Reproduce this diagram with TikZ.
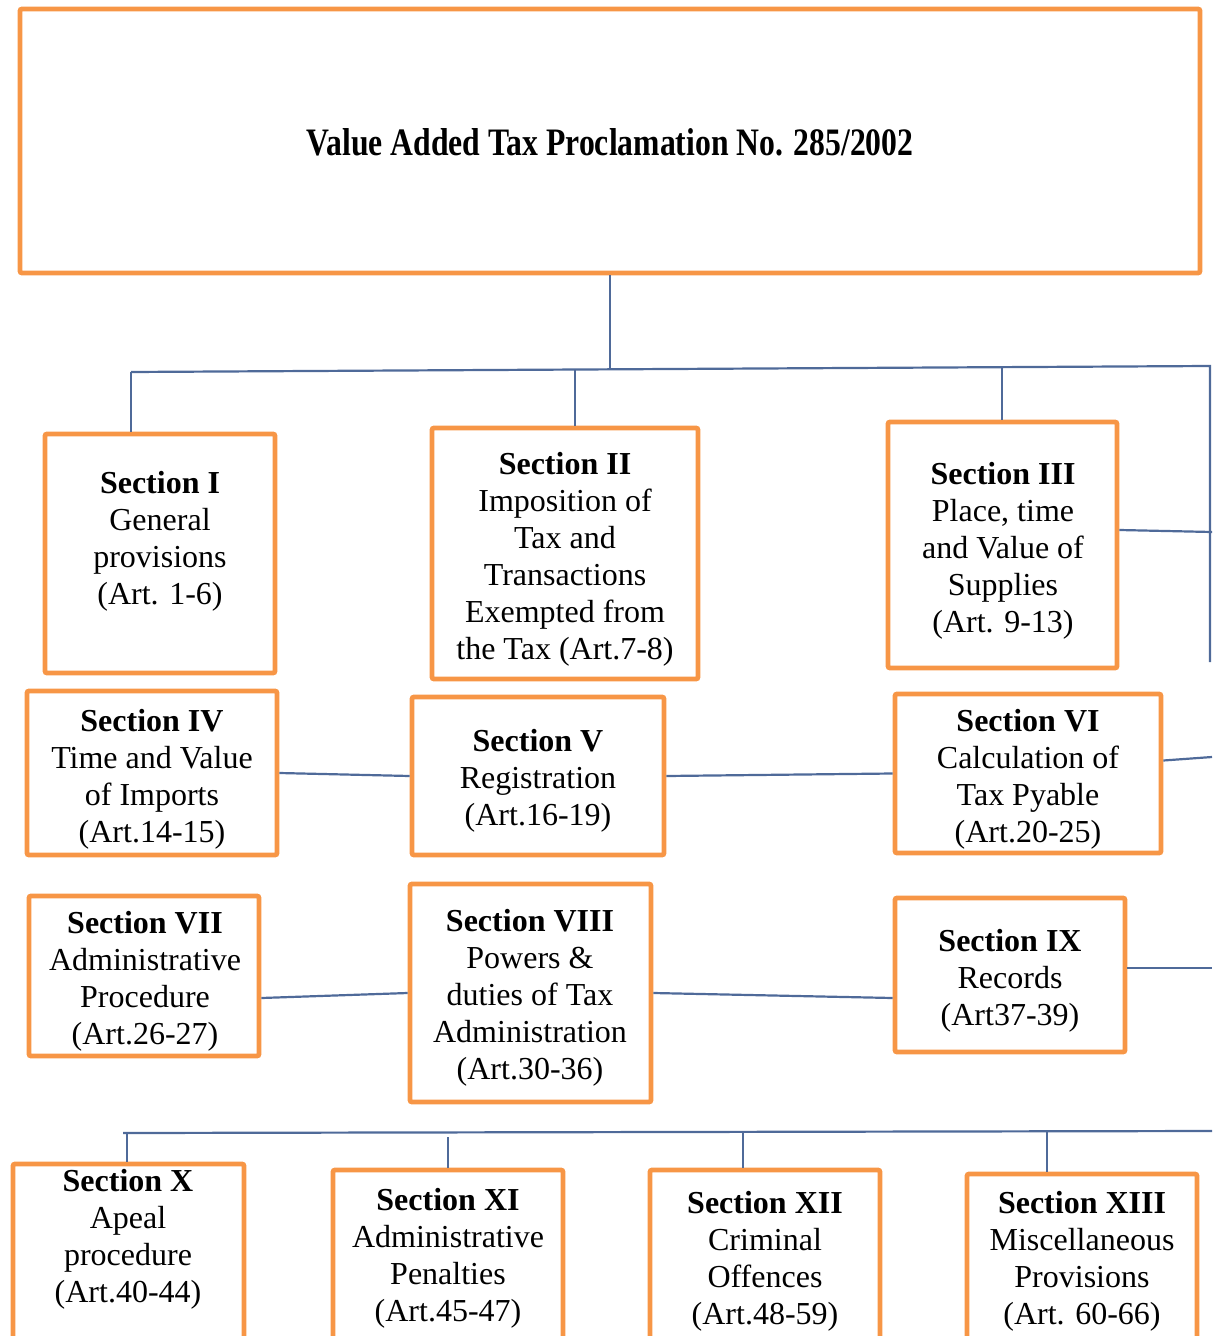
\documentclass[tikz,border=0pt]{standalone}
\usepackage{fontspec}
\setmainfont{Liberation Serif}
\usetikzlibrary{fit}
\definecolor{boxorange}{HTML}{F79646}
\definecolor{linkblue}{HTML}{4F6A99}
\begin{document}
\begin{tikzpicture}[x=0.5pt,y=-0.5pt,
  boxst/.style={draw=boxorange, line width=2.4pt, inner sep=0pt, rounded corners=1pt},
  txt/.style={align=center, font=\fontsize{16}{18.5}\selectfont, inner sep=0pt},
  link/.style={draw=linkblue, line width=1.1pt}]
\useasboundingbox (0,0) rectangle (1212,1336);
\clip (0,0) rectangle (1212,1336);

% boxes
\node[boxst, fit={(20,9) (1200,273)}] (top) {};
\node[boxst, fit={(45,434) (275,673)}] (s1) {};
\node[boxst, fit={(432,428) (698,679)}] (s2) {};
\node[boxst, fit={(888,422) (1117,668)}] (s3) {};
\node[boxst, fit={(27,691) (277,855)}] (s4) {};
\node[boxst, fit={(412,697) (664,855)}] (s5) {};
\node[boxst, fit={(895,694) (1161,853)}] (s6) {};
\node[boxst, fit={(29,896) (259,1056)}] (s7) {};
\node[boxst, fit={(410,884) (651,1102)}] (s8) {};
\node[boxst, fit={(895,898) (1125,1052)}] (s9) {};
\node[boxst, fit={(13,1164) (244,1370)}] (s10) {};
\node[boxst, fit={(333,1170) (563,1370)}] (s11) {};
\node[boxst, fit={(650,1170) (880,1370)}] (s12) {};
\node[boxst, fit={(967,1174) (1197,1370)}] (s13) {};

% texts
\node[inner sep=0pt, font=\fontsize{18}{21}\selectfont\bfseries] (ttl) at (610,142)
  {\scalebox{0.88}[1.08]{Value Added Tax Proclamation No. 285/2002}};
\node[txt] (t1) at (160,541) {\textbf{Section I}\\General\\provisions\\(Art. 1-6)};
\node[txt] (t2) at (565,559) {\textbf{Section II}\\Imposition of\\Tax and\\Transactions\\Exempted from\\the Tax (Art.7-8)};
\node[txt] (t3) at (1003,551) {\textbf{Section III}\\Place, time\\and Value of\\Supplies\\(Art. 9-13)};
\node[txt] (t4) at (152,779) {\textbf{Section IV}\\Time and Value\\of Imports\\(Art.14-15)};
\node[txt] (t5) at (538,781) {\textbf{Section V}\\Registration\\(Art.16-19)};
\node[txt] (t6) at (1028,779) {\textbf{Section VI}\\Calculation of\\Tax Pyable\\(Art.20-25)};
\node[txt] (t7) at (145,981) {\textbf{Section VII}\\Administrative\\Procedure\\(Art.26-27)};
\node[txt] (t8) at (530,998) {\textbf{Section VIII}\\Powers \&\\duties of Tax\\Administration\\(Art.30-36)};
\node[txt] (t9) at (1010,981) {\textbf{Section IX}\\Records\\(Art37-39)};
\node[txt] (t10) at (128,1239) {\textbf{Section X}\\Apeal\\procedure\\(Art.40-44)};
\node[txt] (t11) at (448,1258) {\textbf{Section XI}\\Administrative\\Penalties\\(Art.45-47)};
\node[txt] (t12) at (765,1261) {\textbf{Section XII}\\Criminal\\Offences\\(Art.48-59)};
\node[txt] (t13) at (1082,1261) {\textbf{Section XIII}\\Miscellaneous\\Provisions\\(Art. 60-66)};

% bus coordinates
\coordinate (b0) at (610,368);
\coordinate (bL) at (131,372);
\coordinate (bR) at (1210,366);
\coordinate (b2) at (575,370);
\coordinate (b3) at (1002,368);
\coordinate (vR) at (1210,662);
\coordinate (r3) at (1212,532);
\coordinate (r6) at (1212,757);
\coordinate (r9) at (1212,968);
\coordinate (c0) at (123,1133);
\coordinate (cR) at (1212,1131);
\coordinate (c10) at (127,1133);
\coordinate (c11) at (448,1137);
\coordinate (c12) at (743,1133);
\coordinate (c13) at (1047,1132);

% connectors
\draw[link] (top.south -| b0) -- (b0);
\draw[link] (bL) -- (bR) -- (vR);
\draw[link] (bL) -- (bL |- s1.north);
\draw[link] (b2) -- (b2 |- s2.north);
\draw[link] (b3) -- (b3 |- s3.north);
\draw[link] ([yshift=7.5pt]s3.east) -- (r3);
\draw[link] (s4.east) -- (s5.west);
\draw[link] (s5.east) -- (s6.west);
\draw[link] ([yshift=6.5pt]s6.east) -- (r6);
\draw[link] ([yshift=-11pt]s7.east) -- (s8.west);
\draw[link] (s8.east) -- ([yshift=-11.5pt]s9.west);
\draw[link] ([yshift=3.5pt]s9.east) -- (r9);
\draw[link] (c0) -- (cR);
\draw[link] (c10) -- (c10 |- s10.north);
\draw[link] (c11) -- (c11 |- s11.north);
\draw[link] (c12) -- (c12 |- s12.north);
\draw[link] (c13) -- (c13 |- s13.north);
\end{tikzpicture}
\end{document}
